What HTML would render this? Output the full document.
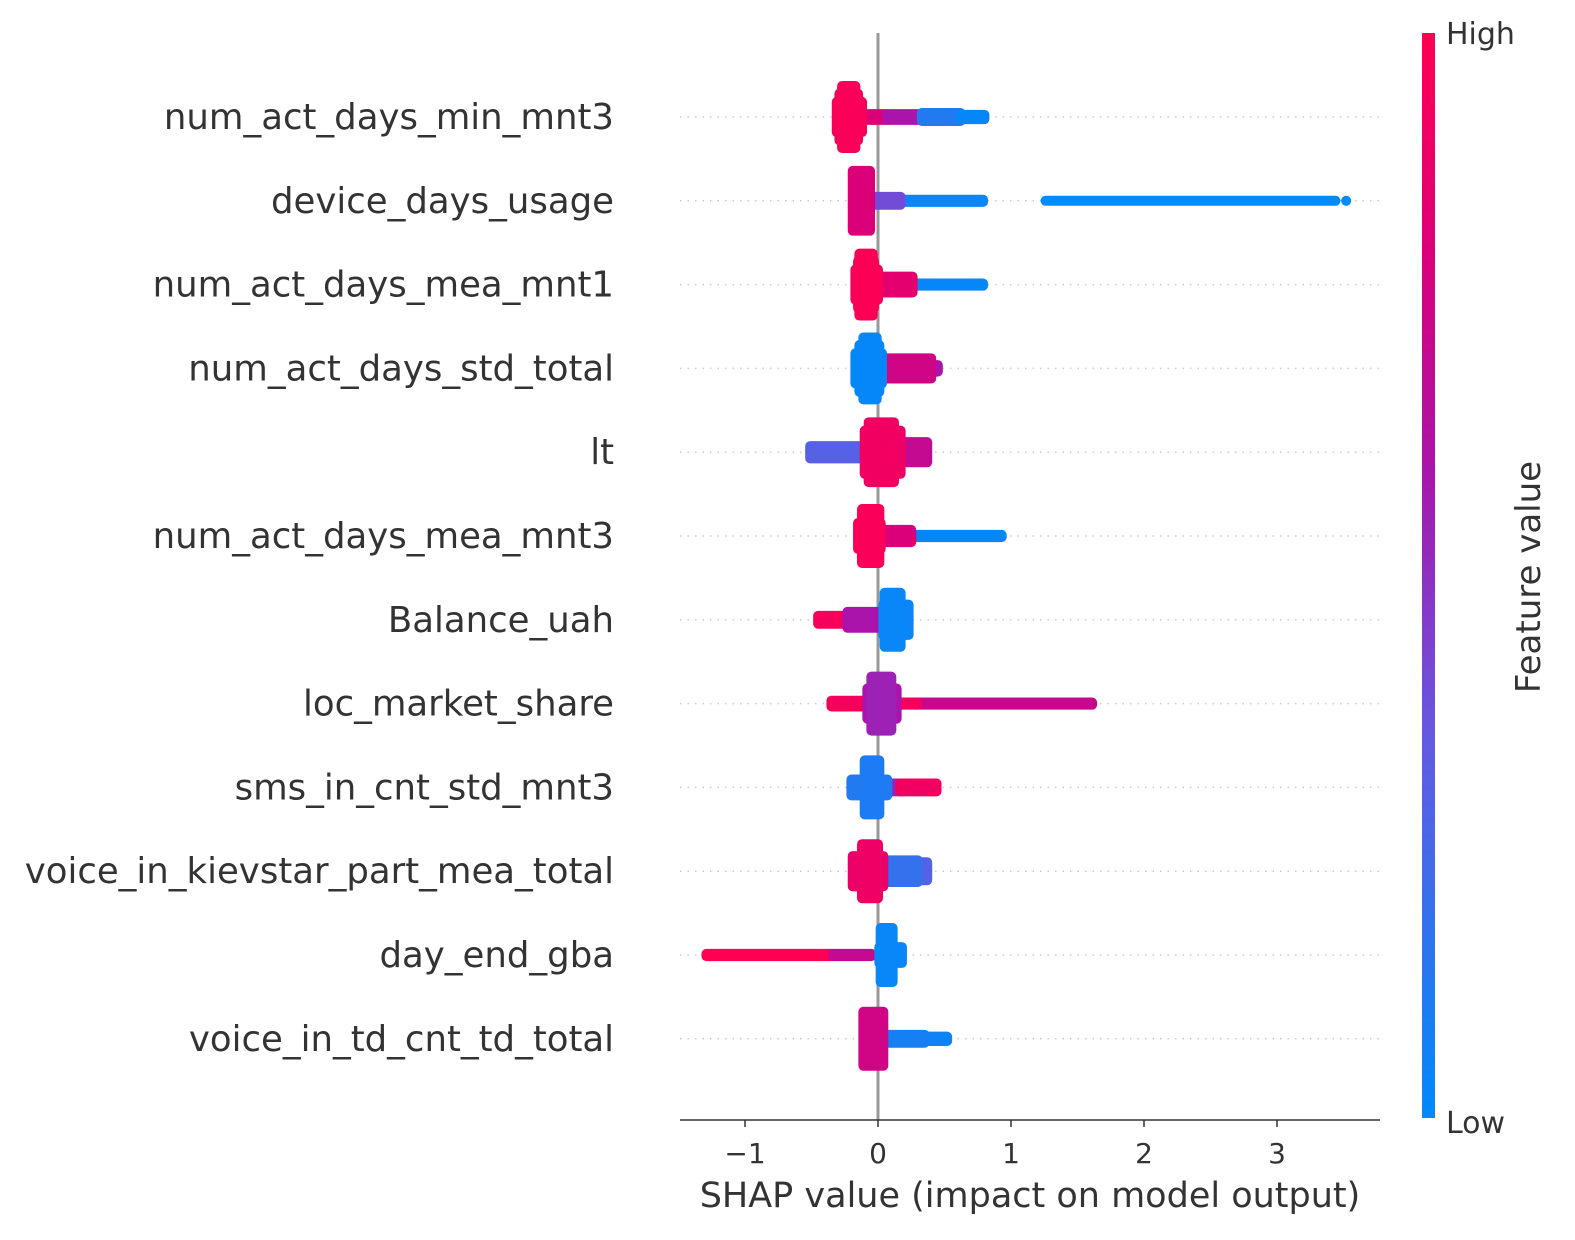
<!DOCTYPE html>
<html><head><meta charset="utf-8"><style>
body{margin:0;background:#fff;}
svg{display:block;}
text{font-family:"DejaVu Sans","Liberation Sans",sans-serif;fill:#333;}
</style></head><body>
<svg id="chart" width="1575" height="1240" viewBox="0 0 1575 1240" xmlns="http://www.w3.org/2000/svg">
<defs>
<linearGradient id="cbar" x1="0" y1="1" x2="0" y2="0">
<stop offset="0" stop-color="rgb(0,138,250)"/>
<stop offset="0.35" stop-color="rgb(100,90,225)"/>
<stop offset="0.6" stop-color="rgb(170,20,170)"/>
<stop offset="0.8" stop-color="rgb(220,0,120)"/>
<stop offset="1" stop-color="rgb(255,0,82)"/>
</linearGradient>
</defs>
<g id="grid"></g>
<line x1="878" y1="33" x2="878" y2="1120" stroke="#999" stroke-width="3"/>
<g id="marks"></g>
<g id="labels"></g>
<line x1="680" y1="1120" x2="1380" y2="1120" stroke="#333" stroke-width="1.5"/>
<g id="ticks"></g>
<text x="1030" y="1207" font-size="35" text-anchor="middle">SHAP value (impact on model output)</text>
<rect x="1422" y="33" width="13" height="1085" fill="url(#cbar)"/>
<text x="1446" y="44" font-size="30">High</text>
<text x="1446" y="1133" font-size="30">Low</text>
<text x="0" y="0" font-size="34" text-anchor="middle" transform="translate(1540,577) rotate(-90)">Feature value</text>
</svg>
<script>
const features = ["num_act_days_min_mnt3","device_days_usage","num_act_days_mea_mnt1","num_act_days_std_total","lt","num_act_days_mea_mnt3","Balance_uah","loc_market_share","sms_in_cnt_std_mnt3","voice_in_kievstar_part_mea_total","day_end_gba","voice_in_td_cnt_td_total"];
const xTicks = [-1,0,1,2,3];
const xTickLabels = ["\u22121","0","1","2","3"];
// segments: [shapStart, shapEnd, density(0-1), featureValue(0-1)]
const seg0 = [[-0.13,0.07,0.08,0.8],[0.07,0.33,0.08,0.6],[0.33,0.62,0.11,0.12],[0.62,0.80,0.06,0.02],[-0.31,-0.12,0.42,0.95],[-0.29,-0.15,0.65,0.96],[-0.27,-0.17,0.86,0.97]];
const seg1 = [[1.26,3.44,0.0,0.0],[3.52,3.52,0.0,0.0],[0.17,0.79,0.03,0.03],[-0.06,0.17,0.11,0.4],[-0.19,-0.06,0.83,0.8]];
const seg2 = [[0.19,0.79,0.03,0.02],[0.02,0.26,0.22,0.85],[-0.17,0.0,0.42,0.97],[-0.15,-0.03,0.65,0.97],[-0.14,-0.04,0.86,0.98]];
const seg3 = [[0.35,0.45,0.09,0.6],[0.04,0.40,0.28,0.75],[-0.17,0.03,0.42,0.02],[-0.14,0.01,0.65,0.02],[-0.11,-0.01,0.86,0.02]];
const seg4 = [[-0.51,-0.08,0.17,0.3],[0.09,0.37,0.28,0.7],[-0.10,0.17,0.6,0.9],[-0.07,0.12,0.83,0.92]];
const seg5 = [[0.14,0.93,0.03,0.02],[0.03,0.25,0.17,0.8],[-0.15,0.02,0.36,0.96],[-0.12,0.01,0.75,0.97]];
const seg6 = [[-0.45,-0.08,0.11,0.95],[-0.23,0.04,0.22,0.6],[0.04,0.23,0.42,0.04],[0.05,0.17,0.75,0.03]];
const seg7 = [[0.29,1.61,0.03,0.72],[0.14,0.29,0.03,0.95],[-0.35,-0.08,0.08,0.95],[-0.08,0.14,0.42,0.6],[-0.05,0.10,0.75,0.55]];
const seg8 = [[0.04,0.19,0.11,0.55],[0.17,0.44,0.11,0.92],[-0.20,0.07,0.22,0.12],[-0.10,0.01,0.75,0.1]];
const seg9 = [[0.02,0.37,0.25,0.3],[0.08,0.30,0.3,0.18],[-0.19,0.04,0.42,0.88],[-0.12,0.0,0.75,0.9]];
const seg10 = [[-1.29,-0.34,0.03,1.0],[-0.34,-0.05,0.03,0.7],[0.01,0.18,0.22,0.03],[0.02,0.11,0.75,0.03]];
const seg11 = [[0.04,0.52,0.06,0.05],[0.08,0.35,0.11,0.08],[-0.11,0.04,0.75,0.75]];
const segments = [seg0,seg1,seg2,seg3,seg4,seg5,seg6,seg7,seg8,seg9,seg10,seg11];

const NS = "http://www.w3.org/2000/svg";
const x0 = 878, pxPerUnit = 133;
function xScale(v){ return x0 + v*pxPerUnit; }
function yScale(i){ return 117 + i*83.8; }
const stops = [[0,[0,138,250]],[0.35,[100,90,225]],[0.6,[170,20,170]],[0.8,[220,0,120]],[1,[255,0,82]]];
function color(t){
  for(let k=1;k<stops.length;k++){
    if(t<=stops[k][0]){
      const a=stops[k-1], b=stops[k], f=(t-a[0])/(b[0]-a[0]);
      const c=a[1].map((v,j)=>Math.round(v+(b[1][j]-v)*f));
      return `rgb(${c[0]},${c[1]},${c[2]})`;
    }
  }
  return "rgb(255,0,82)";
}
function mk(tag, attrs, parent){
  const e=document.createElementNS(NS,tag);
  for(const k in attrs) e.setAttribute(k,attrs[k]);
  parent.appendChild(e); return e;
}
const grid=document.getElementById('grid'), marks=document.getElementById('marks'), labels=document.getElementById('labels'), ticks=document.getElementById('ticks');
features.forEach((f,i)=>{
  const y=yScale(i);
  const g=mk('line',{x1:680,y1:y,x2:1380,y2:y,stroke:'#ccc','stroke-width':1.5,'stroke-dasharray':'1.5 6'},grid);
  
  
  const t=mk('text',{x:614,y:y+12,'font-size':35.5,'text-anchor':'end'},labels);
  t.textContent=f;
  
  
  const grp=mk('g',{},marks);
  
  
  segments[i].forEach(s=>{
    const xa=xScale(s[0])-5, xb=xScale(s[1])+5;
    const h=10+s[2]*72;
    const r=mk('rect',{x:xa,y:y-h/2,width:xb-xa,height:h,rx:5,ry:5,fill:color(s[3])},grp);
    
    
  });
});
xTicks.forEach((v,k)=>{
  const x=xScale(v);
  const l=mk('line',{x1:x,y1:1120,x2:x,y2:1127,stroke:'#333','stroke-width':1.5},ticks);
  
  
  const t=mk('text',{x:x,y:1163,'font-size':28,'text-anchor':'middle'},ticks);
  t.textContent=xTickLabels[k];
  
  
});
</script>
</body></html>
